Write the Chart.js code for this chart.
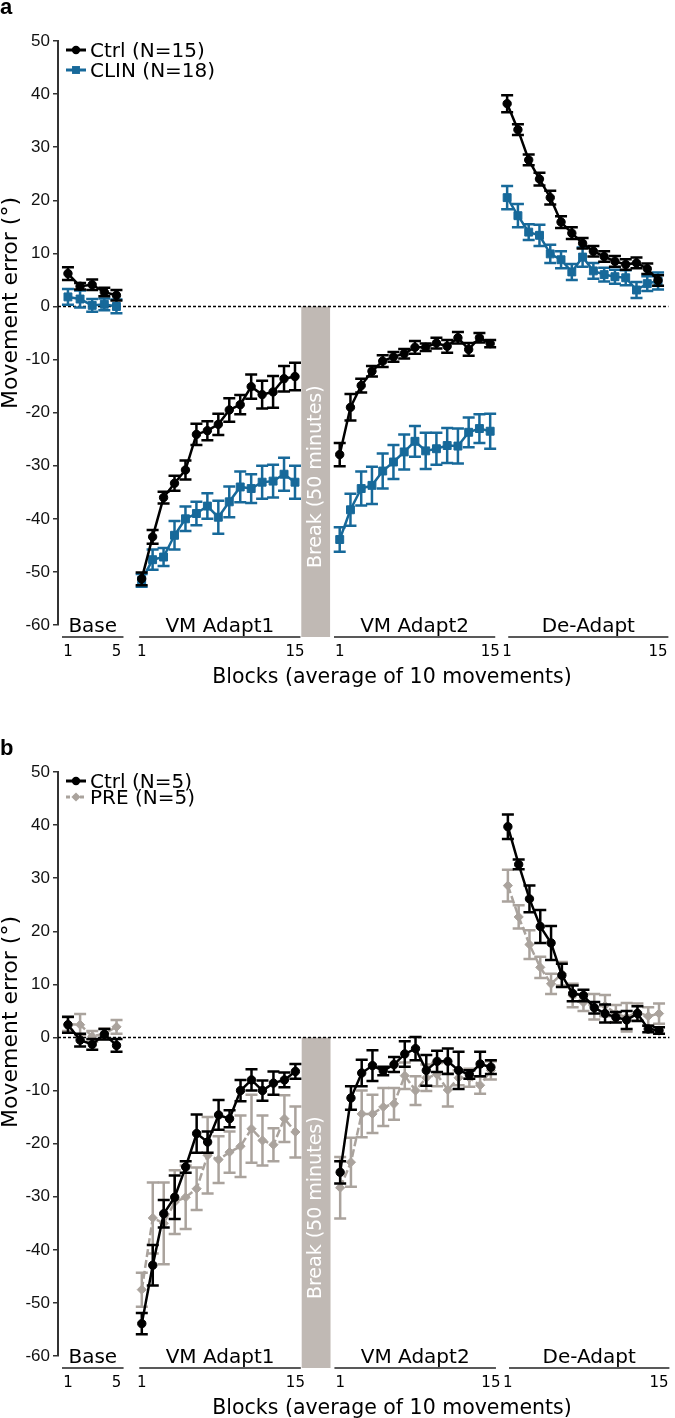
<!DOCTYPE html>
<html>
<head>
<meta charset="utf-8">
<script src="https://cdn.jsdelivr.net/npm/chart.js@4"></script>
<style>
  body { margin: 0; background: #fff; }
  canvas { display: block; }
</style>
</head>
<body>
<canvas id="chartA" width="675" height="700"></canvas>
<canvas id="chartB" width="675" height="718"></canvas>
<script>
// ---- data ----
const blocksBase = [1, 2, 3, 4, 5];
const blocks15 = [1, 2, 3, 4, 5, 6, 7, 8, 9, 10, 11, 12, 13, 14, 15];
const baseTickLabels = ['1', '5'];
const phaseTickLabels = ['1', '15'];
const groupNames = ['Base', 'VM Adapt1', 'VM Adapt2', 'De-Adapt'];
const xTitle = 'Blocks (average of 10 movements)';
const yTitle = 'Movement error (°)';
const breakText = 'Break (50 minutes)';

// panel a
const aCtrlLabel = 'Ctrl (N=15)';
const aClinLabel = 'CLIN (N=18)';
const aCtrlBase = [6.2, 3.8, 4.1, 2.7, 2.1];
const aCtrlBaseErr = [1.2, 0.6, 1.0, 0.8, 1.0];
const aCtrlAd1 = [-51.3, -43.4, -36.0, -33.3, -30.8, -24.1, -23.4, -22.2, -19.5, -18.5, -15.1, -16.6, -16.1, -13.6, -13.2];
const aCtrlAd1Err = [1.2, 1.3, 1.1, 1.4, 1.8, 2.0, 1.8, 2.0, 2.2, 1.8, 2.3, 2.6, 3.0, 2.4, 2.6];
const aCtrlAd2 = [-27.9, -19.0, -14.9, -12.2, -10.3, -9.5, -8.9, -7.7, -7.7, -6.9, -7.5, -5.9, -8.1, -5.9, -7.0];
const aCtrlAd2Err = [2.2, 2.5, 1.3, 1.0, 1.1, 0.9, 0.9, 1.2, 0.7, 1.0, 1.2, 1.1, 1.2, 0.9, 0.7];
const aCtrlDe = [38.2, 33.3, 27.6, 24.0, 20.5, 15.9, 13.8, 11.9, 10.4, 9.4, 8.5, 7.9, 8.2, 7.1, 4.9];
const aCtrlDeErr = [1.6, 1.0, 1.0, 1.2, 1.3, 1.1, 1.1, 1.0, 1.0, 1.0, 1.0, 1.0, 1.0, 1.0, 1.0];
const aClinBase = [1.8, 1.4, 0.2, 0.4, 0.0];
const aClinBaseErr = [1.5, 1.6, 1.2, 1.1, 1.3];
const aClinAd1 = [-51.6, -47.7, -47.2, -43.1, -40.0, -39.0, -37.6, -39.7, -36.8, -34.0, -34.3, -33.1, -32.9, -31.6, -33.1];
const aClinAd1Err = [1.2, 1.9, 1.7, 2.7, 2.3, 2.2, 2.4, 3.1, 2.9, 2.9, 2.7, 3.1, 3.1, 3.1, 3.1];
const aClinAd2 = [-43.9, -38.3, -34.3, -33.7, -31.0, -29.3, -27.4, -25.4, -27.2, -26.8, -26.2, -26.3, -23.7, -23.0, -23.5];
const aClinAd2Err = [2.3, 3.0, 3.2, 3.5, 3.3, 3.2, 3.3, 2.9, 3.4, 3.0, 3.3, 3.3, 2.8, 2.7, 3.3];
const aClinDe = [20.5, 17.1, 14.0, 13.4, 9.9, 8.8, 6.5, 9.3, 6.7, 6.0, 5.6, 5.4, 3.1, 4.3, 4.8];
const aClinDeErr = [2.2, 2.2, 1.5, 2.0, 1.7, 1.6, 1.5, 1.8, 1.5, 1.3, 1.3, 1.4, 1.5, 1.4, 1.6];

// panel b
const bCtrlLabel = 'Ctrl (N=5)';
const bPreLabel = 'PRE (N=5)';
const bCtrlBase = [2.4, -0.5, -1.3, 0.6, -1.5];
const bCtrlBaseErr = [1.5, 1.2, 1.0, 1.0, 1.2];
const bCtrlAd1 = [-53.9, -42.9, -33.2, -30.1, -24.4, -18.1, -19.7, -14.6, -15.3, -10.0, -8.0, -10.0, -8.6, -8.0, -6.4];
const bCtrlAd1Err = [2.0, 3.8, 2.6, 4.1, 1.1, 3.6, 2.0, 2.8, 1.6, 2.0, 2.0, 1.9, 2.2, 1.4, 1.4];
const bCtrlAd2 = [-25.4, -11.4, -6.7, -5.3, -6.3, -5.1, -3.1, -2.1, -6.2, -4.5, -4.5, -6.2, -7.0, -5.0, -5.6];
const bCtrlAd2Err = [2.1, 2.2, 2.5, 2.9, 0.8, 1.4, 2.4, 2.2, 2.9, 2.0, 2.4, 3.5, 0.8, 2.3, 1.3];
const bCtrlDe = [39.7, 32.6, 26.1, 20.9, 17.8, 11.7, 8.3, 7.9, 5.6, 4.5, 3.8, 3.3, 4.5, 1.6, 1.3];
const bCtrlDeErr = [2.3, 0.9, 2.5, 3.1, 3.2, 2.2, 1.5, 1.1, 1.1, 1.7, 1.0, 1.7, 1.4, 0.6, 0.6];
const bPreBase = [2.5, 2.4, 0.2, 0.7, 2.0];
const bPreBaseErr = [1.3, 2.0, 1.0, 1.0, 1.3];
const bPreAd1 = [-47.5, -34.0, -35.0, -31.0, -30.1, -28.5, -22.2, -23.0, -21.6, -20.5, -17.2, -19.4, -20.2, -15.3, -17.8];
const bPreAd1Err = [3.2, 6.7, 7.7, 6.0, 6.0, 4.0, 7.2, 4.4, 3.9, 5.8, 6.4, 4.7, 3.1, 4.4, 4.8];
const bPreAd2 = [-28.3, -23.5, -14.4, -14.4, -13.1, -12.5, -7.2, -10.0, -7.6, -7.0, -9.9, -7.6, -7.6, -9.0, -6.2];
const bPreAd2Err = [5.8, 4.6, 4.4, 3.6, 3.6, 3.0, 2.5, 2.7, 2.5, 2.2, 3.1, 1.4, 1.7, 1.6, 1.7];
const bPreDe = [28.6, 22.7, 17.5, 13.2, 10.1, 12.0, 7.9, 6.6, 5.8, 6.0, 4.5, 3.8, 4.8, 4.0, 4.5];
const bPreDeErr = [3.0, 2.2, 2.7, 2.0, 1.9, 2.2, 2.2, 1.6, 2.4, 2.0, 1.6, 2.7, 1.6, 1.7, 1.9];

// ---- layout (x in block units along the axis) ----
const segLayout = [
  { start: 0.92, step: 1.12, from: 0.37, to: 6.05 },
  { start: 7.73, step: 1.012, from: 7.5, to: 22.4 },
  { start: 26.03, step: 0.993, from: 25.5, to: 40.4 },
  { start: 41.5, step: 0.996, from: 41.6, to: 56.4 }
];
const segBlocks = [blocksBase, blocks15, blocks15, blocks15];
const segTicks = [baseTickLabels, phaseTickLabels, phaseTickLabels, phaseTickLabels];
const breakSpan = [22.48, 25.14];

const BLACK = '#000000';
const BLUE = '#17699a';
const GREY = '#aaa39d';
const BREAK_COLOR = '#c0b9b4';
const FONT = '"DejaVu Sans", Verdana, sans-serif';

function buildSeries(means, errs) {
  const pts = [];
  const bars = [];
  means.forEach(function (m, s) {
    const seg = segLayout[s];
    if (s > 0) { pts.push({ x: seg.start - 0.5, y: null }); bars.push(null); }
    m.forEach(function (v, j) {
      pts.push({ x: seg.start + (segBlocks[s][j] - 1) * seg.step, y: v });
      bars.push(errs[s][j]);
    });
  });
  return { pts: pts, bars: bars };
}

function makeDataset(label, series, color, style, radius, dash) {
  return {
    label: label,
    data: series.pts,
    errBars: series.bars,
    borderColor: color,
    backgroundColor: color,
    borderWidth: 2.5,
    borderDash: dash || [],
    pointStyle: style,
    pointRadius: radius,
    pointBorderWidth: 1,
    pointBackgroundColor: color,
    pointBorderColor: color,
    spanGaps: false,
    tension: 0
  };
}

function drawMarker(ctx, style, x, y, r, color) {
  ctx.save();
  ctx.fillStyle = color;
  ctx.beginPath();
  if (style === 'circle') {
    ctx.arc(x, y, r, 0, Math.PI * 2);
  } else if (style === 'rect') {
    const s = r * Math.SQRT1_2;
    ctx.rect(x - s, y - s, 2 * s, 2 * s);
  } else {
    ctx.moveTo(x, y - r); ctx.lineTo(x + r, y); ctx.lineTo(x, y + r); ctx.lineTo(x - r, y);
    ctx.closePath();
  }
  ctx.fill();
  ctx.restore();
}

function makeDecor(cfg) {
  return {
    id: 'decor',
    beforeDatasetsDraw(chart) {
      const ctx = chart.ctx, ca = chart.chartArea, x = chart.scales.x, y = chart.scales.y;
      // break bar
      const bx0 = x.getPixelForValue(breakSpan[0]);
      const bx1 = x.getPixelForValue(breakSpan[1]);
      const by0 = y.getPixelForValue(0);
      const by1 = ca.bottom + 12;
      ctx.save();
      ctx.fillStyle = BREAK_COLOR;
      ctx.fillRect(bx0, by0, bx1 - bx0, by1 - by0);
      ctx.translate((bx0 + bx1) / 2, (by0 + by1) / 2 + 5);
      ctx.rotate(-Math.PI / 2);
      ctx.fillStyle = '#ffffff';
      ctx.font = '19px ' + FONT;
      ctx.textAlign = 'center';
      ctx.textBaseline = 'middle';
      ctx.fillText(breakText, 0, 0);
      ctx.restore();
      // zero line
      ctx.save();
      ctx.strokeStyle = '#000';
      ctx.lineWidth = 1.5;
      ctx.setLineDash([3, 2]);
      ctx.beginPath();
      ctx.moveTo(ca.left, y.getPixelForValue(0));
      ctx.lineTo(ca.right, y.getPixelForValue(0));
      ctx.stroke();
      ctx.restore();
    },
    afterDatasetDraw(chart, args) {
      const ctx = chart.ctx, y = chart.scales.y;
      const ds = chart.data.datasets[args.index];
      ctx.save();
      ctx.strokeStyle = ds.borderColor;
      ctx.lineWidth = 2.5;
      args.meta.data.forEach(function (el, i) {
        const e = ds.errBars[i];
        const v = ds.data[i].y;
        if (e == null || v == null) return;
        const top = y.getPixelForValue(v + e);
        const bot = y.getPixelForValue(v - e);
        ctx.beginPath();
        ctx.moveTo(el.x, top); ctx.lineTo(el.x, bot);
        ctx.moveTo(el.x - 6, top); ctx.lineTo(el.x + 6, top);
        ctx.moveTo(el.x - 6, bot); ctx.lineTo(el.x + 6, bot);
        ctx.stroke();
      });
      ctx.restore();
    },
    afterDraw(chart) {
      const ctx = chart.ctx, ca = chart.chartArea, x = chart.scales.x;
      ctx.save();
      // panel letter
      ctx.fillStyle = '#000';
      ctx.font = 'bold 22px "Liberation Sans", Arial, sans-serif';
      ctx.textAlign = 'left';
      ctx.textBaseline = 'alphabetic';
      ctx.fillText(cfg.letter, 0, cfg.letterY);
      // legend
      cfg.legend.forEach(function (row) {
        ctx.save();
        ctx.strokeStyle = row.color;
        ctx.lineWidth = 3;
        ctx.setLineDash(row.dash || []);
        ctx.beginPath();
        ctx.moveTo(66, row.y); ctx.lineTo(86, row.y);
        ctx.stroke();
        ctx.restore();
        drawMarker(ctx, row.style, 76, row.y, row.r, row.color);
        ctx.fillStyle = '#000';
        ctx.font = '20px ' + FONT;
        ctx.textAlign = 'left';
        ctx.textBaseline = 'alphabetic';
        ctx.fillText(row.label, 90, row.y + 7);
      });
      // group labels, underlines, block ticks
      segLayout.forEach(function (seg, s) {
        const x0 = x.getPixelForValue(seg.from);
        const x1 = Math.min(x.getPixelForValue(seg.to), ca.right);
        ctx.fillStyle = '#000';
        ctx.font = '20px ' + FONT;
        ctx.textAlign = 'center';
        ctx.fillText(groupNames[s], (x0 + x1) / 2, ca.bottom + 7);
        ctx.strokeStyle = '#222';
        ctx.lineWidth = 1.5;
        ctx.beginPath();
        ctx.moveTo(x0, ca.bottom + 12); ctx.lineTo(x1, ca.bottom + 12);
        ctx.stroke();
        const blocks = segBlocks[s];
        const first = seg.start;
        const last = seg.start + (blocks[blocks.length - 1] - 1) * seg.step;
        ctx.font = '15px ' + FONT;
        ctx.fillText(segTicks[s][0], x.getPixelForValue(first), ca.bottom + 31);
        ctx.fillText(segTicks[s][1], x.getPixelForValue(last), ca.bottom + 31);
      });
      // axis titles
      ctx.font = '20.5px ' + FONT;
      ctx.textAlign = 'center';
      ctx.fillText(xTitle, 392, ca.bottom + 58);
      ctx.translate(11, cfg.yTitleY);
      ctx.rotate(-Math.PI / 2);
      ctx.textBaseline = 'middle';
      ctx.font = '22px ' + FONT;
      ctx.fillText(yTitle, 0, 0);
      ctx.restore();
    }
  };
}

function makeChart(id, datasets, padTop, padBottom, cfg) {
  const canvas = document.getElementById(id);
  if (!canvas) {
    console.error('Canvas ' + id + ' not found!');
    return null;
  }
  return new Chart(canvas.getContext('2d'), {
    type: 'line',
    data: { datasets: datasets },
    options: {
      responsive: false,
      animation: false,
      layout: { padding: { top: padTop, bottom: padBottom, left: 0, right: 2 } },
      scales: {
        x: { type: 'linear', display: false, min: 0, max: 56.4 },
        y: {
          min: -60,
          max: 50,
          ticks: { stepSize: 10, color: '#111', padding: 3, font: { family: '"Liberation Sans", Arial, sans-serif', size: 17 } },
          grid: { drawOnChartArea: false, drawTicks: true, tickLength: 5, color: '#333', lineWidth: 1.5 },
          border: { display: true, color: '#333', width: 2 },
          afterFit: function (scale) { scale.width = 58; }
        }
      },
      plugins: { legend: { display: false }, tooltip: { enabled: false } }
    },
    plugins: [makeDecor(cfg)]
  });
}

const aCtrl = buildSeries([aCtrlBase, aCtrlAd1, aCtrlAd2, aCtrlDe], [aCtrlBaseErr, aCtrlAd1Err, aCtrlAd2Err, aCtrlDeErr]);
const aClin = buildSeries([aClinBase, aClinAd1, aClinAd2, aClinDe], [aClinBaseErr, aClinAd1Err, aClinAd2Err, aClinDeErr]);
const bCtrl = buildSeries([bCtrlBase, bCtrlAd1, bCtrlAd2, bCtrlDe], [bCtrlBaseErr, bCtrlAd1Err, bCtrlAd2Err, bCtrlDeErr]);
const bPre = buildSeries([bPreBase, bPreAd1, bPreAd2, bPreDe], [bPreBaseErr, bPreAd1Err, bPreAd2Err, bPreDeErr]);

const chartA = makeChart('chartA', [
  makeDataset(aCtrlLabel, aCtrl, BLACK, 'circle', 4.2),
  makeDataset(aClinLabel, aClin, BLUE, 'rect', 5.6)
], 41, 75, {
  letter: 'a', letterY: 14, yTitleY: 303,
  legend: [
    { label: aCtrlLabel, color: BLACK, style: 'circle', r: 4.2, y: 50 },
    { label: aClinLabel, color: BLUE, style: 'rect', r: 5.6, y: 70 }
  ]
});

const chartB = makeChart('chartB', [
  makeDataset(bCtrlLabel, bCtrl, BLACK, 'circle', 4.2),
  makeDataset(bPreLabel, bPre, GREY, 'rectRot', 4.6, [8, 3])
], 72, 62, {
  letter: 'b', letterY: 55, yTitleY: 322,
  legend: [
    { label: bCtrlLabel, color: BLACK, style: 'circle', r: 4.2, y: 81 },
    { label: bPreLabel, color: GREY, style: 'rectRot', r: 4.6, y: 97, dash: [4, 3] }
  ]
});
</script>
</body>
</html>
